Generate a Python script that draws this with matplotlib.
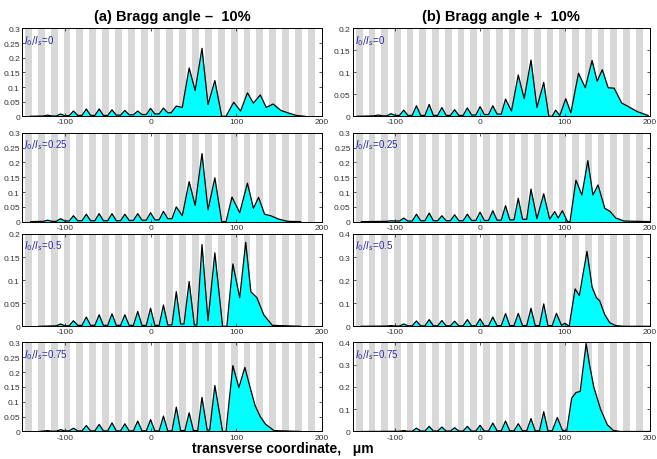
import matplotlib
matplotlib.use('Agg')
import matplotlib.pyplot as plt
from matplotlib.ticker import FuncFormatter
import numpy as np

plt.rcParams['font.family'] = ['Liberation Sans', 'DejaVu Sans']
plt.rcParams['axes.unicode_minus'] = False

# ---- data: (x in um, intensity) ----
# (a) Bragg angle - 10%
a1 = [(-140, 0), (-125, 0.001), (-120, 0.004), (-115, 0.001), (-110, 0.001), (-105, 0.008), (-100, 0.002),
      (-95, 0.002), (-90, 0.018), (-85, 0.003), (-80, 0.003), (-75, 0.025), (-70, 0.003), (-65, 0.003),
      (-60, 0.025), (-55, 0.003), (-50, 0.003), (-45, 0.022), (-40, 0.004), (-35, 0.004), (-30, 0.02),
      (-25, 0.005), (-20, 0.005), (-15, 0.018), (-10, 0.006), (-5, 0.006), (0, 0.027), (5, 0.008), (10, 0.008),
      (15, 0.028), (20, 0.012), (24, 0.012), (30, 0.035), (37, 0.03), (45, 0.165), (52, 0.088), (60, 0.232),
      (67, 0.04), (75, 0.122), (83, 0.0), (88, 0.0), (97, 0.048), (105, 0.018), (113, 0.08), (120, 0.045),
      (128, 0.073), (135, 0.03), (143, 0.042), (152, 0.02), (160, 0.012), (170, 0.003), (180, 0)]

a2 = [(-140, 0), (-125, 0.001), (-120, 0.005), (-115, 0.001), (-110, 0.001), (-105, 0.01), (-100, 0.002),
      (-95, 0.002), (-90, 0.02), (-85, 0.003), (-80, 0.003), (-75, 0.025), (-70, 0.003), (-65, 0.003),
      (-60, 0.027), (-55, 0.003), (-50, 0.003), (-45, 0.027), (-40, 0.003), (-35, 0.003), (-30, 0.025),
      (-25, 0.004), (-20, 0.004), (-15, 0.027), (-10, 0.005), (-5, 0.005), (0, 0.03), (5, 0.006), (10, 0.006),
      (15, 0.035), (20, 0.01), (25, 0.01), (30, 0.05), (37, 0.02), (45, 0.135), (52, 0.055), (60, 0.23),
      (67, 0.04), (75, 0.148), (83, 0.0), (88, 0.0), (95, 0.083), (104, 0.03), (113, 0.13), (120, 0.045),
      (126, 0.082), (133, 0.025), (140, 0.02), (150, 0.008), (160, 0.001), (175, 0)]

a3 = [(-130, 0), (-110, 0.001), (-105, 0.005), (-100, 0.001), (-95, 0.001), (-90, 0.012), (-85, 0.002),
      (-80, 0.002), (-75, 0.02), (-70, 0.002), (-65, 0.002), (-60, 0.025), (-55, 0.002), (-50, 0.002),
      (-45, 0.027), (-40, 0.002), (-35, 0.002), (-30, 0.025), (-25, 0.002), (-20, 0.002), (-15, 0.032),
      (-10, 0.002), (-5, 0.002), (0, 0.039), (5, 0.002), (10, 0.002), (15, 0.046), (20, 0.003), (25, 0.003),
      (30, 0.075), (35, 0.005), (39, 0.005), (45, 0.097), (51, 0.003), (54, 0.003), (60, 0.177), (67, 0.012),
      (75, 0.159), (84, 0.0), (89, 0.0), (96, 0.135), (104, 0.062), (111, 0.182), (117, 0.075), (124, 0.062),
      (132, 0.025), (142, 0.002), (175, 0)]

a4 = [(-130, 0), (-120, 0.003), (-115, 0.001), (-110, 0.001), (-105, 0.006), (-100, 0.002), (-95, 0.002),
      (-90, 0.011), (-85, 0.002), (-80, 0.002), (-75, 0.02), (-70, 0.002), (-65, 0.002), (-60, 0.024),
      (-55, 0.002), (-50, 0.002), (-45, 0.029), (-40, 0.002), (-35, 0.002), (-30, 0.026), (-25, 0.002),
      (-20, 0.002), (-15, 0.035), (-10, 0.002), (-5, 0.002), (0, 0.04), (5, 0.002), (10, 0.002), (15, 0.052),
      (20, 0.002), (25, 0.002), (30, 0.082), (35, 0.003), (40, 0.003), (45, 0.063), (50, 0.003), (55, 0.003),
      (60, 0.115), (66, 0.005), (69, 0.005), (75, 0.155), (84, 0.0), (88, 0.0), (96, 0.222), (103, 0.148),
      (110, 0.216), (116, 0.15), (122, 0.087), (128, 0.05), (134, 0.025), (144, 0.003), (175, 0)]

# (b) Bragg angle + 10%
b1 = [(-145, 0), (-125, 0.001), (-120, 0.003), (-115, 0.001), (-110, 0.001), (-105, 0.006), (-100, 0.002),
      (-95, 0.002), (-90, 0.014), (-85, 0.002), (-80, 0.002), (-75, 0.024), (-70, 0.002), (-65, 0.002),
      (-60, 0.027), (-55, 0.002), (-50, 0.002), (-45, 0.02), (-40, 0.002), (-35, 0.002), (-30, 0.015),
      (-25, 0.002), (-20, 0.002), (-15, 0.019), (-10, 0.003), (-5, 0.003), (0, 0.022), (5, 0.004), (10, 0.004),
      (15, 0.024), (20, 0.005), (25, 0.005), (30, 0.039), (37, 0.012), (45, 0.094), (52, 0.04), (60, 0.128),
      (67, 0.02), (75, 0.077), (81, 0.0), (85, 0.0), (89, 0.014), (94, 0.002), (101, 0.04), (107, 0.008),
      (116, 0.098), (124, 0.065), (132, 0.127), (138, 0.08), (144, 0.106), (151, 0.065), (158, 0.064),
      (167, 0.03), (173, 0.024), (186, 0.01), (198, 0.002)]

b2 = [(-140, 0), (-110, 0.001), (-105, 0.003), (-100, 0.002), (-95, 0.002), (-90, 0.012), (-85, 0.002),
      (-80, 0.002), (-75, 0.025), (-70, 0.003), (-65, 0.003), (-60, 0.029), (-55, 0.003), (-50, 0.003),
      (-45, 0.02), (-40, 0.003), (-35, 0.003), (-30, 0.023), (-25, 0.003), (-20, 0.003), (-15, 0.025),
      (-10, 0.004), (-5, 0.004), (0, 0.032), (5, 0.004), (10, 0.004), (15, 0.037), (20, 0.005), (25, 0.005),
      (30, 0.054), (35, 0.006), (40, 0.006), (45, 0.079), (50, 0.008), (55, 0.008), (60, 0.11), (67, 0.01),
      (75, 0.094), (82, 0.008), (88, 0.034), (92, 0.012), (97, 0.037), (103, 0.0), (106, 0.0), (113, 0.14),
      (120, 0.09), (127, 0.206), (133, 0.09), (139, 0.124), (147, 0.045), (153, 0.035), (160, 0.012),
      (170, 0.002), (200, 0)]

b3 = [(-140, 0), (-110, 0.001), (-105, 0.003), (-100, 0.001), (-95, 0.001), (-90, 0.01), (-85, 0.002),
      (-80, 0.002), (-75, 0.023), (-70, 0.002), (-65, 0.002), (-60, 0.029), (-55, 0.002), (-50, 0.002),
      (-45, 0.025), (-40, 0.002), (-35, 0.002), (-30, 0.022), (-25, 0.002), (-20, 0.002), (-15, 0.029),
      (-10, 0.002), (-5, 0.002), (0, 0.032), (5, 0.002), (10, 0.002), (15, 0.04), (20, 0.003), (25, 0.003),
      (30, 0.055), (35, 0.003), (40, 0.003), (45, 0.056), (50, 0.003), (55, 0.003), (60, 0.078), (65, 0.003),
      (70, 0.003), (75, 0.097), (80, 0.003), (85, 0.003), (90, 0.056), (96, 0.004), (100, 0.013), (105, 0.0),
      (112, 0.162), (117, 0.133), (126, 0.325), (132, 0.17), (137, 0.125), (141, 0.11), (147, 0.05),
      (153, 0.015), (160, 0.003), (170, 0), (200, 0)]

b4 = [(-140, 0), (-95, 0.001), (-90, 0.004), (-85, 0.001), (-80, 0.001), (-75, 0.015), (-70, 0.002),
      (-65, 0.002), (-60, 0.023), (-55, 0.002), (-50, 0.002), (-45, 0.02), (-40, 0.002), (-35, 0.002),
      (-30, 0.017), (-25, 0.002), (-20, 0.002), (-15, 0.023), (-10, 0.002), (-5, 0.002), (0, 0.028), (5, 0.002),
      (10, 0.002), (15, 0.038), (20, 0.003), (25, 0.003), (30, 0.047), (35, 0.003), (40, 0.003), (45, 0.035),
      (50, 0.003), (55, 0.003), (60, 0.058), (65, 0.003), (70, 0.003), (75, 0.089), (80, 0.003), (85, 0.003),
      (91, 0.063), (97, 0.006), (102, 0.0), (108, 0.15), (113, 0.175), (118, 0.18), (125, 0.395), (129, 0.3),
      (134, 0.2), (142, 0.1), (150, 0.03), (157, 0.005), (165, 0.0), (200, 0)]

ratios = ['0', '0.25', '0.5', '0.75']
ylims_a = [0.3, 0.3, 0.2, 0.3]
ylims_b = [0.2, 0.3, 0.4, 0.4]
titles = ['(a) Bragg angle \u2013  10%', '(b) Bragg angle +  10%']

# ---- layout (figure fractions) ----
col_left = [0.0335, 0.537]
col_w = [0.4566, 0.452]
row_bottom = [0.745, 0.516, 0.2885, 0.0598]
row_h = [0.191, 0.193, 0.2007, 0.1935]

stripe_w = 8
stripe_c = np.arange(-142.5, 200, 15)

fig = plt.figure(figsize=(6.57, 4.60), dpi=100)
fmt = FuncFormatter(lambda v, p: '%g' % v)

for col, (curves, ylims) in enumerate([([a1, a2, a3, a4], ylims_a), ([b1, b2, b3, b4], ylims_b)]):
    for row in range(4):
        ax = fig.add_axes([col_left[col], row_bottom[row], col_w[col], row_h[row]])
        for c in stripe_c:
            ax.axvspan(c - stripe_w / 2, c + stripe_w / 2, color='#d8d8d8', lw=0, zorder=0)
        x, y = zip(*curves[row])
        ax.fill_between(x, y, color='#00ffff', lw=0, zorder=1)
        ax.plot(x, y, color='black', lw=0.9, zorder=2)
        ax.set_xlim(-150, 200)
        ax.set_ylim(0, ylims[row])
        ax.set_xticks([-100, 0, 100, 200])
        step = 0.1 if ylims[row] > 0.3 else 0.05
        ax.set_yticks(np.arange(0, ylims[row] + 1e-9, step))
        ax.yaxis.set_major_formatter(fmt)
        ax.tick_params(direction='in', length=2.5, width=0.6, top=True, right=True,
                       labelsize=6, pad=1.5, colors='#333333')
        for s in ax.spines.values():
            s.set_linewidth(0.7)
        ax.text(0.008, 0.95, r'$I_0/I_s$=' + ratios[row], transform=ax.transAxes,
                ha='left', va='top', fontsize=7, color='#2a2aa8', zorder=3)
        if row == 0:
            ax.set_title(titles[col], fontsize=10.5, fontweight='bold', pad=6)

fig.text(0.43, 0.024, 'transverse coordinate,   \u03bcm', ha='center', va='center',
         fontsize=10, fontweight='bold')

plt.savefig('out.png', dpi=100)
